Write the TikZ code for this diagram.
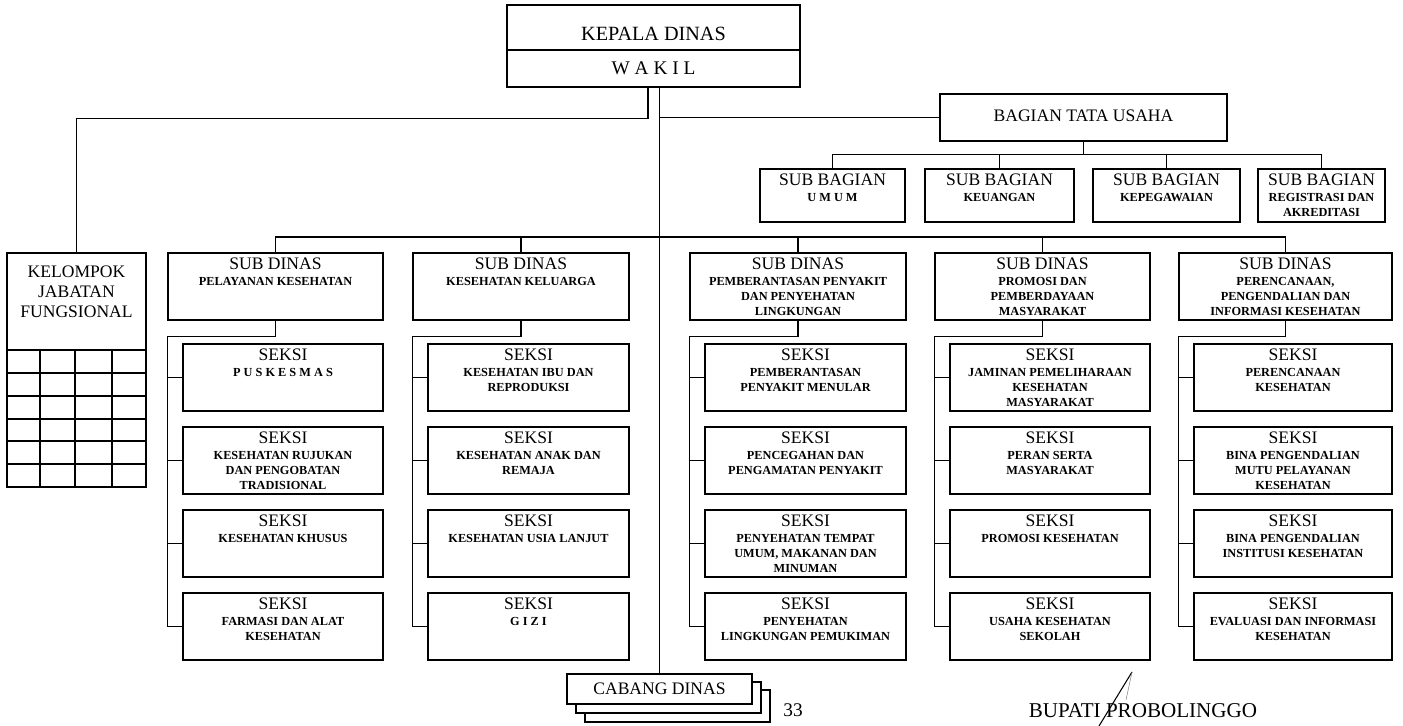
\documentclass[tikz,border=0pt]{standalone}
\usepackage{fontspec}
\setmainfont{Liberation Serif}
\usetikzlibrary{fit}

\newcommand{\besar}{\fontsize{10}{8.6}\selectfont}
\newcommand{\kecil}{\fontsize{7}{8.6}\selectfont\bfseries}
% kotak: nama, kiri, atas, kanan, bawah, teks
\newcommand{\kotak}[6]{%
  \node[box, fit={(#2,#3) (#4,#5)}] (#1) {};
  \node[isi] (#1-t) at ([yshift=-3pt]#1.north) {#6};}

\begin{document}
\begin{tikzpicture}[x=0.02cm, y=-0.02cm, line width=0.8pt,
    box/.style={draw, inner sep=0pt},
    isi/.style={anchor=north, align=center, inner sep=0pt, font=\besar}]

        \useasboundingbox (0,0) rectangle (1403,726);

        % Kepala dinas
        \node[box, fit={(507,5) (800,50)}] (kep) {};
        \node[box, fit={(507,50) (800,87)}] (wak) {};
        \node[font=\fontsize{11.5}{12}\selectfont] (kep-t) at (653.5,34) {KEPALA DINAS};
        \node[font=\fontsize{11}{12}\selectfont] (wak-t) at (653.5,68) {W A K I L};

        % Kelompok jabatan fungsional
        \node[box, fit={(7,253) (146,487)}] (jab) {};
        \node[isi, font=\fontsize{10}{11.3}\selectfont] (jab-t) at (76.5,265) {KELOMPOK\\JABATAN\\FUNGSIONAL};
        \foreach \y in {350,373,396,419,441,464} \draw (7,\y) -- (146,\y);
        \foreach \x in {40,75,112} \draw (\x,350) -- (\x,487);

        % Bagian tata usaha
        \node[box, fit={(940,94) (1227,141)}] (bag) {};
        \node[font=\besar] (bag-t) at (1083.5,116) {BAGIAN TATA USAHA};
        \kotak{umum}{760}{169}{905}{222}{SUB BAGIAN\\\kecil U M U M}
        \kotak{keu}{925}{169}{1074}{222}{SUB BAGIAN\\\kecil KEUANGAN}
        \kotak{kpg}{1093}{169}{1240}{222}{SUB BAGIAN\\\kecil KEPEGAWAIAN}
        \kotak{reg}{1258}{169}{1385}{222}{SUB BAGIAN\\\kecil REGISTRASI DAN\\\kecil AKREDITASI}

        % Sub dinas
        \kotak{pel}{168}{253}{383}{320}{SUB DINAS\\\kecil PELAYANAN KESEHATAN}
        \kotak{klg}{413}{253}{629}{320}{SUB DINAS\\\kecil KESEHATAN KELUARGA}
        \kotak{pem}{690}{253}{906}{320}{SUB DINAS\\\kecil PEMBERANTASAN PENYAKIT\\\kecil DAN PENYEHATAN\\\kecil LINGKUNGAN}
        \kotak{pro}{935}{253}{1150}{320}{SUB DINAS\\\kecil PROMOSI DAN\\\kecil PEMBERDAYAAN\\\kecil MASYARAKAT}
        \kotak{per}{1179}{253}{1392}{320}{SUB DINAS\\\kecil PERENCANAAN,\\\kecil PENGENDALIAN DAN\\\kecil INFORMASI KESEHATAN}

        % Seksi pelayanan kesehatan
        \kotak{pel1}{183}{344}{383}{411}{SEKSI\\\kecil P U S K E S M A S}
        \kotak{pel2}{183}{427}{383}{494}{SEKSI\\\kecil KESEHATAN RUJUKAN\\\kecil DAN PENGOBATAN\\\kecil TRADISIONAL}
        \kotak{pel3}{183}{510}{383}{577}{SEKSI\\\kecil KESEHATAN KHUSUS}
        \kotak{pel4}{183}{593}{383}{660}{SEKSI\\\kecil FARMASI DAN ALAT\\\kecil KESEHATAN}

        % Seksi kesehatan keluarga
        \kotak{klg1}{428}{344}{629}{411}{SEKSI\\\kecil KESEHATAN IBU DAN\\\kecil REPRODUKSI}
        \kotak{klg2}{428}{427}{629}{494}{SEKSI\\\kecil KESEHATAN ANAK DAN\\\kecil REMAJA}
        \kotak{klg3}{428}{510}{629}{577}{SEKSI\\\kecil KESEHATAN USIA LANJUT}
        \kotak{klg4}{428}{593}{629}{660}{SEKSI\\\kecil G I Z I}

        % Seksi pemberantasan penyakit
        \kotak{pem1}{705}{344}{906}{411}{SEKSI\\\kecil PEMBERANTASAN\\\kecil PENYAKIT MENULAR}
        \kotak{pem2}{705}{427}{906}{494}{SEKSI\\\kecil PENCEGAHAN DAN\\\kecil PENGAMATAN PENYAKIT}
        \kotak{pem3}{705}{510}{906}{577}{SEKSI\\\kecil PENYEHATAN TEMPAT\\\kecil UMUM, MAKANAN DAN\\\kecil MINUMAN}
        \kotak{pem4}{705}{593}{906}{660}{SEKSI\\\kecil PENYEHATAN\\\kecil LINGKUNGAN PEMUKIMAN}

        % Seksi promosi
        \kotak{pro1}{950}{344}{1150}{411}{SEKSI\\\kecil JAMINAN PEMELIHARAAN\\\kecil KESEHATAN\\\kecil MASYARAKAT}
        \kotak{pro2}{950}{427}{1150}{494}{SEKSI\\\kecil PERAN SERTA\\\kecil MASYARAKAT}
        \kotak{pro3}{950}{510}{1150}{577}{SEKSI\\\kecil PROMOSI KESEHATAN}
        \kotak{pro4}{950}{593}{1150}{660}{SEKSI\\\kecil USAHA KESEHATAN\\\kecil SEKOLAH}

        % Seksi perencanaan
        \kotak{per1}{1194}{344}{1392}{411}{SEKSI\\\kecil PERENCANAAN\\\kecil KESEHATAN}
        \kotak{per2}{1194}{427}{1392}{494}{SEKSI\\\kecil BINA PENGENDALIAN\\\kecil MUTU PELAYANAN\\\kecil KESEHATAN}
        \kotak{per3}{1194}{510}{1392}{577}{SEKSI\\\kecil BINA PENGENDALIAN\\\kecil INSTITUSI KESEHATAN}
        \kotak{per4}{1194}{593}{1392}{660}{SEKSI\\\kecil EVALUASI DAN INFORMASI\\\kecil KESEHATAN}

        % Cabang dinas
        \node[box, fill=white, fit={(585,690) (770,722)}] (cab3) {};
        \node[box, fill=white, fit={(576,682) (761,713)}] (cab2) {};
        \node[box, fill=white, fit={(567,674) (752,704)}] (cab) {};
        \node[font=\besar] (cab-t) at (cab) {CABANG DINAS};
        \node[font=\fontsize{11}{12}\selectfont] (hal) at (793,710) {33};

        % Tanda tangan
        \node[font=\fontsize{12}{13}\selectfont] (bup) at (1143,711) {BUPATI PROBOLINGGO};
        \draw[line width=0.6pt] (1099,726) -- (1132,672);
        \draw[line width=0.3pt, gray] (1132,672) -- (1126,700);

        % Garis
        \draw ([xshift=-0.11cm]wak.south) -- ++(0,31) -| (jab.north);
        \draw (cab.north) -- (cab.north |- wak.south);
        \draw (cab.north |- bag.west) -- (bag.west);
        \draw (bag.south) -- ++(0,13) coordinate (bb);
        \draw (umum.north) |- (bb) -| (reg.north);
        \foreach \n in {keu,kpg} \draw (\n.north) -- (\n.north |- bb);
        \coordinate (bd) at (659.5,237);
        \draw (pel.north) |- (bd) -| (per.north);
        \foreach \n in {klg,pem,pro} \draw (\n.north) -- (\n.north |- bd);
        \foreach \n in {pel,klg,pem,pro,per} {
            \draw (\n.south) -- ++(0,16) -| ([xshift=-0.3cm]\n4.west) -- (\n4.west);
            \foreach \r in {1,2,3} \draw (\n\r.west) -- ++(-15,0);
        }

\end{tikzpicture}
\end{document}
